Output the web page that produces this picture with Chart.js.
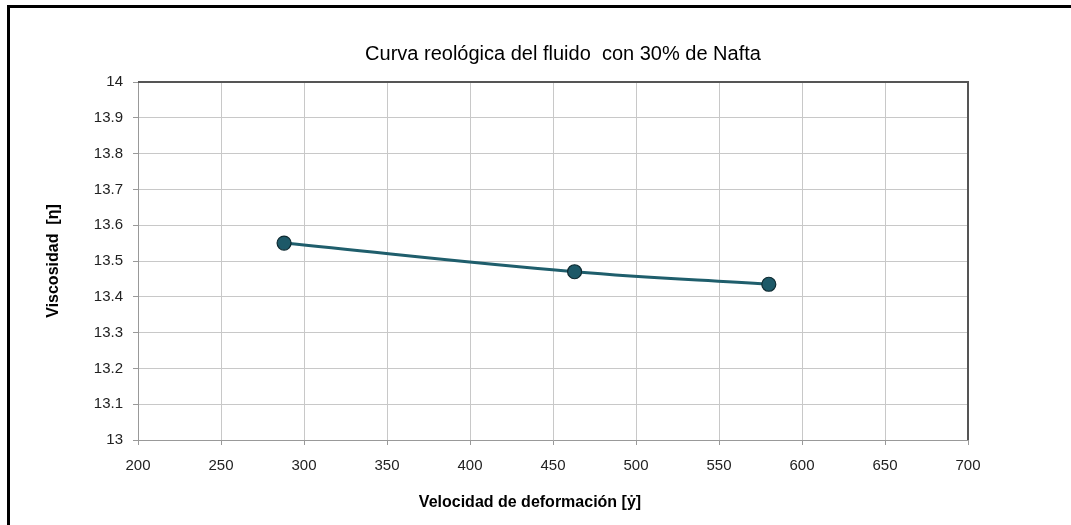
<!DOCTYPE html>
<html>
<head>
<meta charset="utf-8">
<script src="https://cdn.jsdelivr.net/npm/chart.js@4"></script>
<style>
  html, body { margin: 0; padding: 0; background: #fff; }
  #wrap { width: 1071px; height: 525px; position: relative; }
</style>
</head>
<body>
<div id="wrap"><canvas id="viscChart" width="1071" height="525"></canvas></div>
<script>
// Datos
const shearRate = [288, 463, 580];
const viscosity = [13.55, 13.47, 13.435];
const chartTitle = 'Curva reológica del fluido  con 30% de Nafta';
const xTitle = 'Velocidad de deformación [ẏ]';
const yTitle = 'Viscosidad  [η]';

const points = shearRate.map((x, i) => ({ x: x, y: viscosity[i] }));

// marco negro exterior, borde superior/derecho del área de trazado y textos
// que en el original no están centrados sobre el área (título y eje X)
const framePlugin = {
  id: 'frame',
  beforeDraw(chart) {
    const c = chart.ctx;
    c.save();
    c.fillStyle = '#fff';
    c.fillRect(0, 0, chart.width, chart.height);
    c.strokeStyle = '#000';
    c.lineWidth = 3;
    c.beginPath();
    c.moveTo(8.5, chart.height);
    c.lineTo(8.5, 6.5);
    c.lineTo(chart.width, 6.5);
    c.stroke();
    c.restore();
  },
  beforeDatasetsDraw(chart) {
    const a = chart.chartArea, c = chart.ctx;
    c.save();
    c.strokeStyle = '#555';
    c.lineWidth = 2;
    c.beginPath();
    c.moveTo(a.left, a.top);
    c.lineTo(a.right, a.top);
    c.lineTo(a.right, a.bottom);
    c.stroke();
    c.restore();
  },
  afterDraw(chart) {
    const c = chart.ctx;
    c.save();
    c.fillStyle = '#000';
    c.textAlign = 'center';
    c.textBaseline = 'middle';
    c.font = '20px "Liberation Sans"';
    c.fillText(chartTitle, 563, 54);
    c.font = 'bold 16px "Liberation Sans"';
    c.fillText(xTitle, 530, 503);
    c.restore();
  }
};

const tickFont = { family: 'Liberation Sans', size: 15 };
const axisTitleFont = { family: 'Liberation Sans', size: 16, weight: 'bold' };

new Chart(document.getElementById('viscChart').getContext('2d'), {
  type: 'scatter',
  data: {
    datasets: [{
      label: 'Viscosidad',
      data: points,
      showLine: true,
      tension: 0.4,
      borderColor: '#1f5e6c',
      borderWidth: 3,
      pointRadius: 7,
      pointBackgroundColor: '#1d5968',
      pointBorderColor: '#0e2a31',
      pointBorderWidth: 1.2
    }]
  },
  options: {
    responsive: false,
    animation: false,
    devicePixelRatio: 1,
    layout: { padding: { left: 40, right: 103, top: 82, bottom: 8 } },
    plugins: {
      legend: { display: false },
      tooltip: { enabled: false },
      title: { display: false }
    },
    scales: {
      x: {
        type: 'linear',
        min: 200, max: 700,
        ticks: { stepSize: 50, color: '#222', font: tickFont, padding: 12 },
        grid: { color: '#c8c8c8', lineWidth: 1, tickLength: 5, tickColor: '#999' },
        border: { color: '#999', width: 1 },
        title: { display: false, text: xTitle },
        afterFit(s) { s.height = 77; }
      },
      y: {
        min: 13, max: 14,
        ticks: { stepSize: 0.1, color: '#222', font: tickFont, padding: 10,
          callback: v => Math.round(v * 10) / 10 },
        grid: { color: '#c8c8c8', lineWidth: 1, tickLength: 5, tickColor: '#999' },
        border: { color: '#999', width: 1 },
        title: { display: true, text: yTitle, color: '#000', font: axisTitleFont, padding: { top: 4, bottom: 4 } },
        afterFit(s) { s.width = 98; }
      }
    }
  },
  plugins: [framePlugin]
});
</script>
</body>
</html>
